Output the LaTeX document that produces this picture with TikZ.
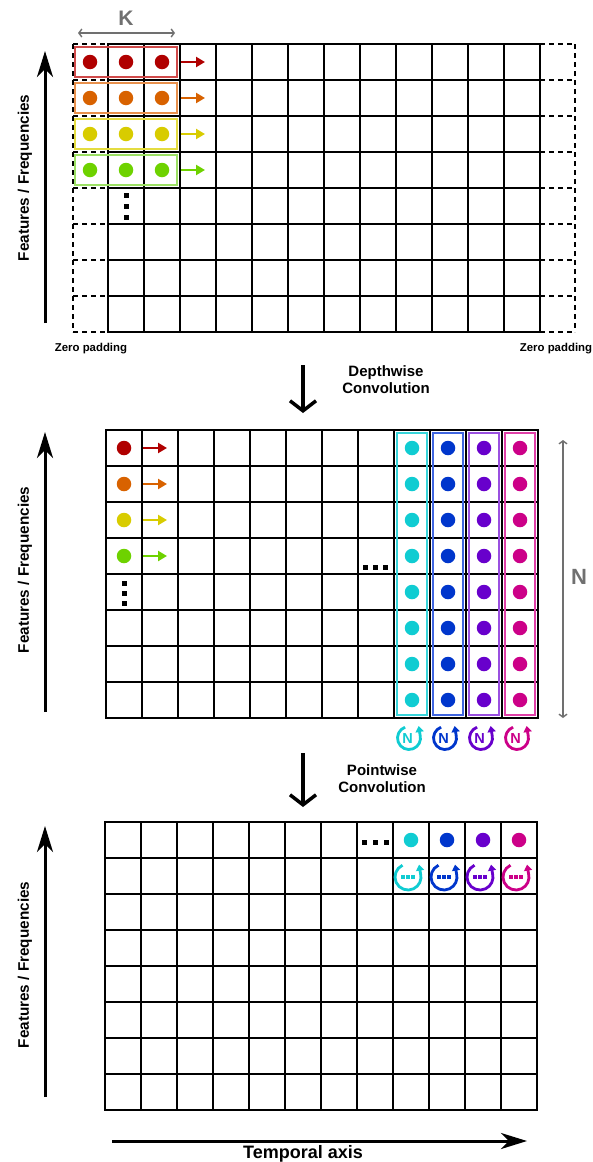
\documentclass[tikz,border=0pt]{standalone}
\usepackage{fontspec}
\setmainfont{Liberation Sans}
\usetikzlibrary{arrows.meta}
\definecolor{dRed}{HTML}{B00000}
\definecolor{bRed}{HTML}{D04A4A}
\definecolor{dOra}{HTML}{D86200}
\definecolor{bOra}{HTML}{E8904C}
\definecolor{dYel}{HTML}{D8CC00}
\definecolor{bYel}{HTML}{E4DC40}
\definecolor{dGre}{HTML}{6ED200}
\definecolor{bGre}{HTML}{9CE064}
\definecolor{dCya}{HTML}{10CCD2}
\definecolor{bCya}{HTML}{38D4DA}
\definecolor{dBlu}{HTML}{0036CC}
\definecolor{bBlu}{HTML}{4066E0}
\definecolor{dPur}{HTML}{6800CC}
\definecolor{bPur}{HTML}{9A50E0}
\definecolor{dMag}{HTML}{CC0088}
\definecolor{bMag}{HTML}{E040A8}
\definecolor{gr}{HTML}{707070}
\tikzset{
  cell/.style={line width=2pt, black, line cap=rect},
  pad/.style={line width=2pt, dash pattern=on 5pt off 4pt},
  dot/.style={circle, inner sep=0pt, minimum size=14.5pt},
  box/.style={line width=1.8pt},
  rowarrow/.style={line width=2.5pt, -{Triangle[length=9pt,width=10pt]}},
  axis/.style={line width=3pt, -{Stealth[length=26pt,width=16pt,inset=8pt]}},
  convarrow/.style={line width=3.5pt, -{Straight Barb[length=10pt,width=26pt]}},
  dimarrow/.style={gr, line width=1.4pt, {Straight Barb[length=3pt,width=8pt]}-{Straight Barb[length=3pt,width=8pt]}},
  sq/.style={fill=black, minimum size=5pt, inner sep=0pt},
  lab/.style={font=\bfseries\fontsize{15}{17}\selectfont, align=center, inner sep=0pt},
  flab/.style={font=\bfseries\fontsize{15.3}{18}\selectfont, rotate=90, inner sep=0pt},
  zlab/.style={font=\bfseries\fontsize{11.4}{13}\selectfont, inner sep=0pt},
  nicon/.pic={
    \draw[line width=2.8pt, line join=round, -{Triangle[length=6pt,width=8pt]}] (-110:11.5) arc[start angle=-110,end angle=-375,radius=11.5] -- ++(-1.5,-9);
    \node[font=\bfseries\fontsize{14.5}{14.5}\selectfont, inner sep=0pt] (-n) at (-1.5,0.5) {N};
  },
  dicon/.pic={
    \draw[line width=2.8pt, line join=round, -{Triangle[length=6pt,width=8pt]}] (-115:13) arc[start angle=-115,end angle=-375,radius=13] -- ++(-1.5,-9);
    \foreach \dx in {-5,0,5} \fill (\dx-1.6,-1.6) rectangle (\dx+1.6,1.6);
  }
}
\begin{document}
\begin{tikzpicture}[x=1pt,y=-1pt]
\useasboundingbox (0,0) rectangle (593,1162);
\fill[white] (0,0) rectangle (593,1162);

% ================= TOP =================
\foreach \i in {0,...,12} \draw[cell] (108+36*\i,44) -- (108+36*\i,332);
\foreach \j in {0,...,8} \draw[cell] (108,44+36*\j) -- (540,44+36*\j);
\draw[pad] (73,44) -- (73,332);
\draw[pad] (575,44) -- (575,332);
\foreach \j in {0,...,8} {
  \draw[pad] (73,44+36*\j) -- (108,44+36*\j);
  \draw[pad] (540,44+36*\j) -- (575,44+36*\j);
}
\foreach \c/\b [count=\r from 0] in {dRed/bRed,dOra/bOra,dYel/bYel,dGre/bGre} {
  \draw[box,\b] (75,47+36*\r) rectangle (177,77+36*\r);
  \foreach \x [count=\k] in {90,126,162} \node[dot,fill=\c] (td\r\k) at (\x,62+36*\r) {};
  \coordinate (ta\r) at (181,62+36*\r);
  \coordinate (tb\r) at (205,62+36*\r);
  \draw[rowarrow,\c] (ta\r) -- (tb\r);
}
\foreach \y [count=\k] in {195,206,217} \node[sq] (tv\k) at (126,\y) {};
\coordinate (k1) at (78,33);
\coordinate (k2) at (175,33);
\draw[dimarrow] (k1) -- (k2);
\node[font=\bfseries\fontsize{21}{21}\selectfont, text=gr, inner sep=0pt] (K) at (126,18) {K};
\coordinate (a1s) at (45,323);
\coordinate (a1e) at (45,51);
\draw[axis] (a1s) -- (a1e);
\node[flab] (f1) at (25,178) {Features / Frequencies};
\node[zlab] (z1) at (91,349) {Zero padding};
\node[zlab] (z2) at (556,349) {Zero padding};

% depthwise
\coordinate (d1) at (303,365);
\coordinate (d2) at (303,413);
\draw[convarrow] (d1) -- (d2);
\node[lab] (dw) at (386,380) {Depthwise\\Convolution};

% ================= MIDDLE =================
\foreach \i in {0,...,12} \draw[cell] (106+36*\i,430) -- (106+36*\i,718);
\foreach \j in {0,...,8} \draw[cell] (106,430+36*\j) -- (538,430+36*\j);
\foreach \c [count=\r from 0] in {dRed,dOra,dYel,dGre} {
  \node[dot,fill=\c] (md\r) at (124,448+36*\r) {};
  \coordinate (ma\r) at (143,448+36*\r);
  \coordinate (mb\r) at (167,448+36*\r);
  \draw[rowarrow,\c] (ma\r) -- (mb\r);
}
\foreach \y [count=\k] in {583,593,603} \node[sq] (mv\k) at (124,\y) {};
\foreach \x [count=\k] in {365,375,385} \node[sq] (mh\k) at (\x,567) {};
\foreach \c/\b [count=\q from 8] in {dCya/bCya,dBlu/bBlu,dPur/bPur,dMag/bMag} {
  \draw[box,\b] (106+36*\q+3,433) rectangle (106+36*\q+33,715);
  \foreach \r in {0,...,7} \node[dot,fill=\c] (mc\q-\r) at (124+36*\q,448+36*\r) {};
  \pic (mi\q) [color=\c] at (121+36*\q,738) {nicon};
}
\coordinate (n1) at (563,440);
\coordinate (n2) at (563,718);
\draw[dimarrow] (n1) -- (n2);
\node[font=\bfseries\fontsize{22}{22}\selectfont, text=gr, inner sep=0pt] (N) at (579,577) {N};
\coordinate (a2s) at (45,712);
\coordinate (a2e) at (45,432);
\draw[axis] (a2s) -- (a2e);
\node[flab] (f2) at (25,570) {Features / Frequencies};

% pointwise
\coordinate (p1) at (303,753);
\coordinate (p2) at (303,807);
\draw[convarrow] (p1) -- (p2);
\node[lab] (pw) at (382,779) {Pointwise\\Convolution};

% ================= BOTTOM =================
\foreach \i in {0,...,12} \draw[cell] (105+36*\i,822) -- (105+36*\i,1110);
\foreach \j in {0,...,8} \draw[cell] (105,822+36*\j) -- (537,822+36*\j);
\foreach \x [count=\k] in {364,375,386} \node[sq] (bh\k) at (\x,842) {};
\foreach \c [count=\q from 8] in {dCya,dBlu,dPur,dMag} {
  \node[dot,fill=\c] (bd\q) at (123+36*\q,840) {};
  \pic (bi\q) [color=\c] at (120+36*\q,877) {dicon};
}
\coordinate (a3s) at (45,1097);
\coordinate (a3e) at (45,826);
\draw[axis] (a3s) -- (a3e);
\node[flab] (f3) at (25,965) {Features / Frequencies};
\coordinate (t1) at (112,1141);
\coordinate (t2) at (527,1141);
\draw[axis] (t1) -- (t2);
\node[font=\bfseries\fontsize{18}{18}\selectfont, inner sep=0pt] (ta) at (303,1154) {Temporal axis};
\end{tikzpicture}
\end{document}
